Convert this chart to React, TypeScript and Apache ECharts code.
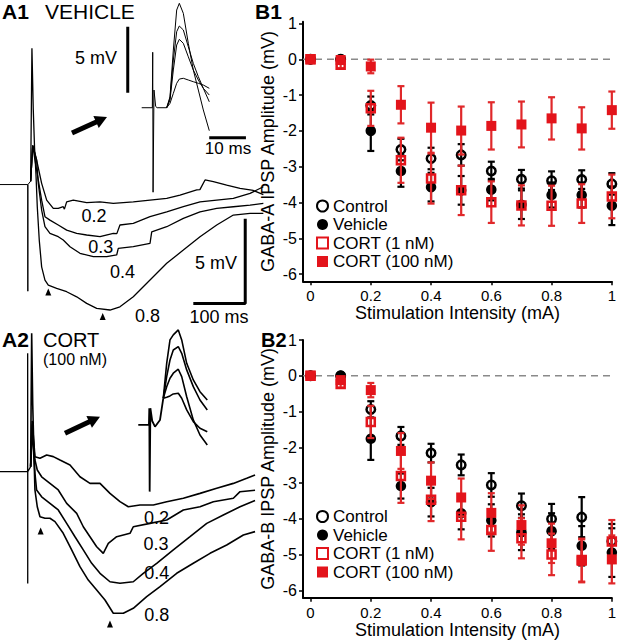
import React, { useEffect, useRef } from "react";
import * as echarts from "echarts";

const FONT = "'Liberation Sans', Arial, Helvetica, sans-serif";
const RED = "#e3141b";
const RED_BAR = "#e0282a";
const BLACK = "#000000";

// ---------- B panels: stimulation intensity (mA) ----------
const intensity = [0, 0.1, 0.2, 0.3, 0.4, 0.5, 0.6, 0.7, 0.8, 0.9, 1.0];
const xTicks = [0, 0.2, 0.4, 0.6, 0.8, 1];
const yTicks = [-6, -5, -4, -3, -2, -1, 0, 1];
const legendNames = ["Control", "Vehicle", "CORT (1 nM)", "CORT (100 nM)"];
const xRange = [-0.025, 1];
const zeroLevel = 0;

// B1: GABA-A IPSP amplitude (mV)
const gabaAControl = [0, 0, -1.29, -2.52, -2.77, -2.67, -3.12, -3.35, -3.39, -3.36, -3.48];
const gabaAControlErr = [0.03, 0.05, 0.25, 0.3, 0.3, 0.3, 0.26, 0.26, 0.26, 0.26, 0.3];
const gabaAVehicle = [0, 0, -2.0, -3.12, -3.57, -3.66, -3.64, -4.06, -3.79, -3.79, -4.09];
const gabaAVehicleErr = [0.03, 0.05, 0.56, 0.44, 0.4, 0.4, 0.3, 0.4, 0.35, 0.35, 0.54];
const gabaACort1 = [0, -0.15, -1.37, -2.82, -3.33, -3.66, -3.99, -4.08, -4.09, -4.03, -3.83];
const gabaACort1Err = [0.03, 0.1, 0.49, 0.63, 0.7, 0.69, 0.58, 0.56, 0.56, 0.54, 0.61];
const gabaACort100 = [0, -0.02, -0.2, -1.27, -1.91, -1.99, -1.86, -1.82, -1.65, -1.93, -1.42];
const gabaACort100Err = [0.03, 0.05, 0.19, 0.52, 0.7, 0.67, 0.66, 0.64, 0.59, 0.59, 0.52];

// B2: GABA-B IPSP amplitude (mV)
const gabaBControl = [0, 0, -0.94, -1.68, -2.16, -2.49, -3.05, -3.63, -4.0, -3.95, -4.62];
const gabaBControlErr = [0.03, 0.05, 0.23, 0.25, 0.26, 0.29, 0.33, 0.34, 0.42, 0.56, 0.48];
const gabaBVehicle = [0, 0, -1.76, -3.08, -3.53, -3.84, -4.04, -4.37, -4.34, -4.75, -4.94];
const gabaBVehicleErr = [0.03, 0.05, 0.59, 0.35, 0.4, 0.45, 0.45, 0.5, 0.5, 0.55, 0.68];
const gabaBCort1 = [0, -0.23, -1.29, -2.8, -3.46, -3.94, -4.31, -4.54, -4.99, -5.15, -4.63];
const gabaBCort1Err = [0.03, 0.1, 0.45, 0.75, 0.6, 0.63, 0.58, 0.56, 0.58, 0.6, 0.6];
const gabaBCort100 = [0, -0.12, -0.4, -2.1, -2.93, -3.4, -3.83, -4.17, -4.68, -5.17, -5.13];
const gabaBCort100Err = [0.03, 0.05, 0.2, 0.5, 0.51, 0.53, 0.55, 0.55, 0.55, 0.6, 0.67];

// ---------- A panels: traces [time (ms), voltage (mV)] ----------
const a1Stim = [[-60, 0], [-6.6, 0], [-6.4, -6.3], [-6.2, 0], [-1, 0.2]];
const a1Trace02 = [[-1, 0.2], [3, 2.3], [4.1, 2.23], [10.5, 1.45], [20.2, 0.07], [29.9, -0.92], [42.6, -1.41], [52.2, -1.41], [61.8, -1.31], [64, -1.45], [68.4, -1.02], [81.1, -0.92], [106.9, -1.07], [132.6, -1.02], [158.2, -1.11], [196.7, -1.02], [228.9, -0.92], [261.1, -0.82], [286.7, -0.62], [318.9, -0.32], [325, -0.3], [334.9, 0.27], [350.9, 0.17], [376.6, -0.03], [402.3, -0.22], [427.9, -0.35], [447.2, -0.6]];
const a1Trace03 = [[-1, 0.2], [3, 2.3], [7.3, 1.45], [13.7, 0.27], [20.2, -0.92], [26.6, -1.9], [36.2, -2.1], [52.2, -2.39], [68.4, -2.69], [87.7, -2.88], [106.9, -2.98], [132.6, -3.08], [158.2, -2.88], [165, -2.9], [171, -2.39], [196.7, -2.29], [228.9, -1.9], [261.1, -1.61], [293.1, -1.31], [325.2, -1.02], [357.4, -0.92], [389.4, -0.82], [421.6, -0.52], [447.2, -0.13]];
const a1Trace04 = [[-1, 0.2], [3, 2.3], [10.5, 1.45], [13.7, 0.07], [20.2, -1.51], [26.6, -2.49], [36.2, -2.88], [52.2, -3.08], [61.8, -3.28], [74.8, -3.67], [94, -4.06], [119.7, -4.26], [145.5, -4.26], [164.7, -4.16], [167.8, -3.77], [196.7, -3.67], [228.9, -3.47], [232.2, -2.79], [261.1, -2.49], [293.1, -2.0], [325.2, -1.61], [357.4, -1.41], [389.4, -1.31], [421.6, -1.21], [447.2, -1.11]];
const a1Trace08 = [[-1, 0.2], [1.5, 8.05], [4, 4.5], [6.5, 2.2], [9.2, 0.66], [11.8, -1.31], [15.6, -3.28], [20.2, -4.86], [26.6, -5.64], [33, -5.94], [49.1, -6.13], [68.4, -6.33], [87.7, -6.63], [106.9, -7.02], [126.2, -7.31], [151.8, -7.41], [171, -7.22], [196.7, -6.63], [228.9, -5.64], [261.1, -4.65], [293.1, -3.87], [325.2, -3.08], [357.4, -2.39], [389.4, -1.8], [421.6, -1.7], [447.2, -1.7]];
const a1Arrowheads = [[33, -6.35], [137.8, -7.8]];

const a1InsetStim = [[-3, 0], [-0.1, 0], [0, 4.2], [0.1, -6.4], [0.35, 1.34], [0.8, 0.1], [1.2, 0], [3.81, 0]];
const a1InsetTraces = [
  [[3.81, 0], [4.71, 0.83], [5.62, 4.37], [6.53, 7.4], [7.25, 7.91], [8.34, 7.15], [9.7, 4.88], [11.06, 2.86], [12.43, 1.34], [13.79, -0.17], [15.42, -1.74]],
  [[3.81, 0], [4.71, 0.71], [5.62, 3.61], [6.53, 5.76], [7.25, 6.19], [8.34, 5.89], [9.7, 4.62], [11.06, 3.36], [12.43, 2.35], [13.79, 1.47], [15.42, 0.45]],
  [[3.81, 0], [4.71, 0.58], [5.62, 2.86], [6.53, 4.75], [7.25, 5.18], [8.34, 4.88], [9.7, 3.86], [11.06, 2.86], [12.43, 2.1], [13.79, 1.47], [15.42, 0.96]],
  [[3.81, 0], [4.71, 0.33], [5.62, 1.09], [6.53, 1.85], [7.25, 2.17], [8.34, 2.23], [9.7, 2.1], [11.06, 1.97], [12.43, 1.85], [13.79, 1.72], [15.42, 1.47]],
];

const a2Stim = [[-60, 0], [-6.8, 0], [-6.7, 7.0], [-6.6, -6.6], [-6.5, 0], [-1, 0.3]];
const a2Trace02 = [[-1, 0.3], [2, 3.0], [5, 1.8], [7.3, 0.89], [17, 0.79], [29.9, 0.99], [42.6, 0.89], [55.5, 0.69], [74.8, 0.4], [94, -0.3], [113.3, -0.69], [132.6, -0.69], [151.8, -1.28], [171.1, -1.77], [187.1, -2.07], [209.6, -1.97], [235.3, -1.97], [261.1, -1.77], [293.1, -1.57], [325.2, -1.28], [357.4, -0.98], [389.4, -0.69], [415.2, -0.39], [431.2, -0.19]];
const a2Trace03 = [[-1, 0.3], [2, 2.8], [5, 1.5], [7.3, 0.69], [11.8, 0.1], [20.2, -0.3], [36.2, -0.69], [52.2, -1.08], [68.4, -1.87], [87.7, -2.46], [100.4, -3.25], [113.3, -3.84], [126.2, -4.43], [138.9, -4.82], [148.6, -4.23], [164.7, -3.84], [190.4, -3.64], [196.7, -3.25], [228.9, -3.05], [261.1, -2.85], [293.1, -2.26], [325.2, -2.07], [350.9, -1.77], [389.4, -1.57], [402.3, -1.18], [431.2, -1.1]];
const a2Trace04 = [[-1, 0.3], [2, 2.6], [5, 1.0], [7.3, -0.09], [10.5, -1.08], [20.2, -1.48], [36.2, -1.87], [52.2, -2.26], [68.4, -3.05], [84.4, -3.84], [100.4, -4.62], [116.6, -5.41], [132.6, -6.0], [151.8, -6.5], [171.1, -6.59], [196.7, -6.5], [216, -6.0], [241.8, -5.41], [273.8, -4.62], [306, -3.84], [338.2, -3.05], [370.1, -2.56], [402.3, -2.07], [431.2, -1.7]];
const a2Trace08 = [[-1, 0.3], [1, 8.17], [3, 4.0], [5.5, 1.0], [7.3, -1.08], [11.8, -2.07], [17, -2.66], [26.6, -2.75], [36.2, -2.75], [45.9, -2.95], [61.8, -3.64], [78, -4.62], [94, -5.61], [110, -6.4], [126.2, -6.99], [142.2, -7.58], [158.2, -8.36], [177.5, -8.36], [196.7, -8.07], [222.5, -7.38], [248.2, -6.79], [280.3, -6.0], [312.3, -5.41], [344.5, -4.82], [376.6, -4.33], [408.7, -3.74], [431.2, -3.54]];
const a2Arrowheads = [[18.3, -3.5], [151.8, -9.0]];

const a2InsetStim = [[-3, 0], [-0.1, 0], [0, 1.27], [0.1, -5.05], [0.3, 1.27], [0.8, 0.3], [1.55, -0.13], [2.92, 0.38], [3.81, 2.02]];
const a2InsetTraces = [
  [[3.81, 2.02], [4.74, 4.67], [5.64, 6.44], [6.54, 6.82], [7.9, 7.2], [8.83, 6.44], [10.19, 4.67], [11.99, 3.41], [13.81, 2.52], [15.8, 1.89]],
  [[3.81, 2.02], [4.74, 3.66], [5.64, 4.92], [6.54, 5.68], [7.9, 5.93], [8.83, 5.43], [10.19, 4.17], [11.99, 2.9], [13.81, 1.89], [15.8, 1.14]],
  [[3.81, 2.02], [4.74, 2.9], [5.64, 3.54], [6.54, 3.92], [7.9, 4.22], [8.83, 3.66], [10.19, 2.14], [11.99, 0.38], [13.81, -0.76], [15.8, -1.52]],
  [[3.81, 2.02], [4.74, 2.1], [5.64, 2.2], [6.54, 2.35], [7.9, 2.4], [8.83, 2.02], [10.19, 1.14], [11.99, 0.25], [13.81, -0.25], [15.8, -0.51]],
];

// scale bars (sizes in ms / mV, anchored at a corner)
const mainBarMs = 100;
const mainBarMv = 5;
const mainBarStart = [312.3, -7.02];
const insetBarMs = 10;
const insetBarStart = [15.4, -2.27];
const insetBarMv = 5;
const insetVBarStart = [-6.8, 1.14];

function traceSeries(data: number[][], idx: number, width: number) {
  return {
    type: "line",
    xAxisIndex: idx,
    yAxisIndex: idx,
    data,
    symbol: "none",
    showSymbol: false,
    silent: true,
    lineStyle: { color: BLACK, width },
    z: 2,
  };
}

function zeroLineSeries(idx: number) {
  return {
    type: "line",
    xAxisIndex: idx,
    yAxisIndex: idx,
    data: [[xRange[0], zeroLevel], [xRange[1], zeroLevel]],
    symbol: "none",
    showSymbol: false,
    silent: true,
    lineStyle: { color: "#8a8a8a", width: 1.5, type: [7, 5] },
    z: 1,
  };
}

function errorBarSeries(name: string, idx: number, values: number[], errs: number[], color: string, z: number) {
  return {
    type: "custom",
    name,
    xAxisIndex: idx,
    yAxisIndex: idx,
    silent: true,
    z,
    data: intensity.map((x, i) => [x, values[i] - errs[i], values[i] + errs[i]]),
    encode: { x: 0, y: [1, 2] },
    renderItem: (params: any, api: any) => {
      const x = api.value(0);
      const lo = api.coord([x, api.value(1)]);
      const hi = api.coord([x, api.value(2)]);
      const cap = 3.5;
      const style = { stroke: color, lineWidth: 2.2, opacity: 1 };
      return {
        type: "group",
        children: [
          { type: "line", shape: { x1: lo[0], y1: lo[1], x2: hi[0], y2: hi[1] }, style },
          { type: "line", shape: { x1: lo[0] - cap, y1: lo[1], x2: lo[0] + cap, y2: lo[1] }, style },
          { type: "line", shape: { x1: hi[0] - cap, y1: hi[1], x2: hi[0] + cap, y2: hi[1] }, style },
        ],
      };
    },
  };
}

const markerStyles: Record<string, any> = {
  Control: { symbol: "circle", symbolSize: 8.5, itemStyle: { color: "rgba(255,255,255,0)", borderColor: BLACK, borderWidth: 2.5, opacity: 1 } },
  Vehicle: { symbol: "circle", symbolSize: 10.5, itemStyle: { color: BLACK, opacity: 1 } },
  "CORT (1 nM)": { symbol: "rect", symbolSize: 8, itemStyle: { color: "rgba(255,255,255,0)", borderColor: RED, borderWidth: 2.5, opacity: 1 } },
  "CORT (100 nM)": { symbol: "rect", symbolSize: 10, itemStyle: { color: RED, opacity: 1 } },
};

function markerSeries(name: string, idx: number, values: number[], z: number) {
  return {
    type: "scatter",
    name,
    xAxisIndex: idx,
    yAxisIndex: idx,
    data: intensity.map((x, i) => [x, values[i]]),
    z,
    ...markerStyles[name],
  };
}

function hiddenAxes(min: number, max: number, idx: number) {
  return { type: "value", gridIndex: idx, min, max, show: false };
}

function bXAxis(idx: number) {
  return {
    type: "value",
    gridIndex: idx,
    min: xRange[0],
    max: xRange[1],
    name: "Stimulation Intensity (mA)",
    nameLocation: "middle",
    nameGap: 21,
    nameTextStyle: { fontSize: 18, color: BLACK, fontFamily: FONT },
    axisLine: { onZero: false, lineStyle: { color: BLACK, width: 2 } },
    axisTick: { show: true, length: 4, lineStyle: { color: BLACK, width: 1.5 }, customValues: xTicks },
    axisLabel: { fontSize: 15, color: BLACK, fontFamily: FONT, margin: 7, customValues: xTicks },
    splitLine: { show: false },
  };
}

function bYAxis(idx: number, max: number, title: string) {
  return {
    type: "value",
    gridIndex: idx,
    min: -6.2,
    max,
    name: title,
    nameLocation: "middle",
    nameRotate: 90,
    nameGap: 26,
    nameTextStyle: { fontSize: 18, color: BLACK, fontFamily: FONT },
    axisLine: { onZero: false, lineStyle: { color: BLACK, width: 2 } },
    axisTick: { show: true, length: 4, lineStyle: { color: BLACK, width: 1.5 }, customValues: yTicks },
    axisLabel: { fontSize: 16, color: BLACK, fontFamily: FONT, margin: 6, customValues: yTicks },
    splitLine: { show: false },
  };
}

function txt(text: string, x: number, y: number, size: number, opts: any = {}) {
  return {
    type: "text",
    x,
    y,
    silent: true,
    style: {
      text,
      fill: BLACK,
      fontSize: size,
      fontFamily: FONT,
      fontWeight: opts.bold ? "bold" : "normal",
      textAlign: opts.align || "left",
      align: opts.align || "left",
      textVerticalAlign: "middle",
      verticalAlign: "middle",
    },
  };
}

function arrow(x1: number, y1: number, x2: number, y2: number) {
  const dx = x2 - x1;
  const dy = y2 - y1;
  const len = Math.sqrt(dx * dx + dy * dy);
  const ux = dx / len;
  const uy = dy / len;
  const nx = -uy;
  const ny = ux;
  const headL = 12;
  const headW = 6.5;
  const bx = x2 - ux * headL;
  const by = y2 - uy * headL;
  return [
    { type: "line", silent: true, shape: { x1, y1, x2: bx + ux * 2, y2: by + uy * 2 }, style: { stroke: BLACK, lineWidth: 5 } },
    {
      type: "polygon",
      silent: true,
      shape: { points: [[x2, y2], [bx + nx * headW, by + ny * headW], [bx - nx * headW, by - ny * headW]] },
      style: { fill: BLACK },
    },
  ];
}

export default function App() {
  const ref = useRef<HTMLDivElement>(null);

  useEffect(() => {
    if (!ref.current) return;
    const chart = echarts.init(ref.current, undefined, { renderer: "svg" });

    const tri = { symbol: "triangle", symbolSize: [6, 7], itemStyle: { color: BLACK, opacity: 1 }, silent: true };

    const series: any[] = [
      // A1 main
      traceSeries(a1Stim, 0, 1),
      traceSeries(a1Trace02, 0, 1.3),
      traceSeries(a1Trace03, 0, 1.3),
      traceSeries(a1Trace04, 0, 1.3),
      traceSeries(a1Trace08, 0, 1.3),
      traceSeries([mainBarStart, [mainBarStart[0] + mainBarMs, mainBarStart[1]], [mainBarStart[0] + mainBarMs, mainBarStart[1] + mainBarMv]], 0, 3),
      { type: "scatter", xAxisIndex: 0, yAxisIndex: 0, data: a1Arrowheads, ...tri },
      // A1 inset
      traceSeries(a1InsetStim, 1, 1),
      ...a1InsetTraces.map((d) => traceSeries(d, 1, 1)),
      traceSeries([insetBarStart, [insetBarStart[0] + insetBarMs, insetBarStart[1]]], 1, 3),
      traceSeries([insetVBarStart, [insetVBarStart[0], insetVBarStart[1] + insetBarMv]], 1, 3),
      // A2 main
      traceSeries(a2Stim, 2, 1.3),
      traceSeries(a2Trace02, 2, 1.6),
      traceSeries(a2Trace03, 2, 1.6),
      traceSeries(a2Trace04, 2, 1.6),
      traceSeries(a2Trace08, 2, 1.6),
      { type: "scatter", xAxisIndex: 2, yAxisIndex: 2, data: a2Arrowheads, ...tri },
      // A2 inset
      traceSeries(a2InsetStim, 3, 1.8),
      ...a2InsetTraces.map((d) => traceSeries(d, 3, 1.6)),
      // B1
      zeroLineSeries(4),
      errorBarSeries("ctlA err", 4, gabaAControl, gabaAControlErr, BLACK, 3),
      errorBarSeries("vehA err", 4, gabaAVehicle, gabaAVehicleErr, BLACK, 3),
      markerSeries("Control", 4, gabaAControl, 4),
      markerSeries("Vehicle", 4, gabaAVehicle, 4),
      errorBarSeries("c1A err", 4, gabaACort1, gabaACort1Err, RED_BAR, 5),
      errorBarSeries("c100A err", 4, gabaACort100, gabaACort100Err, RED_BAR, 5),
      markerSeries("CORT (1 nM)", 4, gabaACort1, 6),
      markerSeries("CORT (100 nM)", 4, gabaACort100, 6),
      // B2
      zeroLineSeries(5),
      errorBarSeries("ctlB err", 5, gabaBControl, gabaBControlErr, BLACK, 3),
      errorBarSeries("vehB err", 5, gabaBVehicle, gabaBVehicleErr, BLACK, 3),
      markerSeries("Control", 5, gabaBControl, 4),
      markerSeries("Vehicle", 5, gabaBVehicle, 4),
      errorBarSeries("c1B err", 5, gabaBCort1, gabaBCort1Err, RED_BAR, 5),
      errorBarSeries("c100B err", 5, gabaBCort100, gabaBCort100Err, RED_BAR, 5),
      markerSeries("CORT (1 nM)", 5, gabaBCort1, 6),
      markerSeries("CORT (100 nM)", 5, gabaBCort100, 6),
    ];

    const legendBase = {
      data: legendNames,
      orient: "vertical",
      left: 316,
      itemWidth: 11,
      itemHeight: 11,
      itemGap: 1.5,
      padding: 0,
      selectedMode: false,
      textStyle: { fontSize: 17, color: BLACK, fontFamily: FONT },
    };

    const option: any = {
      animation: false,
      backgroundColor: "#ffffff",
      textStyle: { fontFamily: FONT },
      grid: [
        { left: 0, top: 0, width: 270, height: 320 },
        { left: 120, top: 0, width: 140, height: 200 },
        { left: 0, top: 320, width: 270, height: 320 },
        { left: 120, top: 320, width: 140, height: 200 },
        { left: 303, top: 21.7, width: 309.3, height: 259.6 },
        { left: 303, top: 340, width: 309.3, height: 257.7 },
      ],
      xAxis: [
        hiddenAxes(-60, 460, 0),
        hiddenAxes(-8.91, 29.23, 1),
        hiddenAxes(-60, 460, 2),
        hiddenAxes(-7.98, 30.16, 3),
        bXAxis(4),
        bXAxis(5),
      ],
      yAxis: [
        hiddenAxes(-8, 10.9, 0),
        hiddenAxes(-6.99, 8.16, 1),
        hiddenAxes(-9.94, 8.96, 2),
        hiddenAxes(-7.2, 7.95, 3),
        bYAxis(4, 1.05, "GABA-A IPSP Amplitude (mV)"),
        bYAxis(5, 1.0, "GABA-B IPSP Amplitude (mV)"),
      ],
      legend: [
        { ...legendBase, top: 197.5 },
        { ...legendBase, top: 508 },
      ],
      graphic: [
        txt("A1", 2, 11, 21, { bold: true }),
        txt("VEHICLE", 45, 11, 21),
        txt("B1", 255, 11, 21, { bold: true }),
        txt("5 mV", 96, 58, 18, { align: "center" }),
        txt("10 ms", 228, 148, 17, { align: "center" }),
        txt("0.2", 94, 216, 18, { align: "center" }),
        txt("0.3", 100.8, 246.7, 18, { align: "center" }),
        txt("0.4", 122.5, 271.7, 18, { align: "center" }),
        txt("0.8", 147.5, 316, 18, { align: "center" }),
        txt("5 mV", 216, 263, 18, { align: "center" }),
        txt("100 ms", 219, 316.5, 18, { align: "center" }),
        txt("A2", 2, 339.5, 21, { bold: true }),
        txt("CORT", 43, 339.5, 20),
        txt("(100 nM)", 43, 359, 16),
        txt("B2", 261, 339.5, 20, { bold: true }),
        txt("0.2", 156.5, 517.5, 18, { align: "center" }),
        txt("0.3", 156, 544, 18, { align: "center" }),
        txt("0.4", 156.7, 573.3, 18, { align: "center" }),
        txt("0.8", 156.7, 615, 18, { align: "center" }),
        ...arrow(72, 133, 107, 117),
        ...arrow(65, 433.3, 100, 416.7),
      ],
      series,
    };

    chart.setOption(option);
    return () => chart.dispose();
  }, []);

  return (
    <div
      ref={ref}
      style={{ position: "absolute", left: 0, top: 0, width: 619, height: 640, background: "#fff" }}
    />
  );
}
